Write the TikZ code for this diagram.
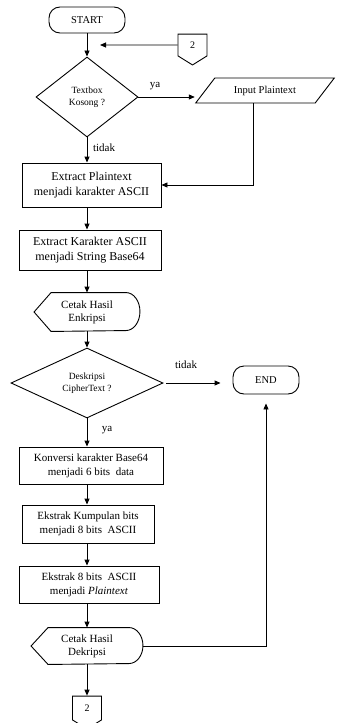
\documentclass[tikz,border=0pt]{standalone}
\usepackage{fontspec}
\setmainfont{Liberation Serif}
\usetikzlibrary{
    arrows.meta,
    positioning,
    shapes.geometric,
    shapes.symbols
}

\begin{document}
\begin{tikzpicture}[
    x=1pt, y=-1pt,
    line width=0.9pt,
    font=\fontsize{10}{12}\selectfont,
    terminal/.style={rectangle, rounded corners=11pt, draw, minimum width=76pt, minimum height=26pt, align=center, font=\fontsize{10.5}{12}\selectfont},
    process/.style={rectangle, draw, align=center, inner sep=2pt, font=\fontsize{11}{14}\selectfont},
    bigbox/.style={process, font=\fontsize{12}{15}\selectfont},
    decision/.style={diamond, draw, align=center, inner sep=0pt, font=\fontsize{9.5}{12}\selectfont},
    inout/.style={trapezium, trapezium left angle=51, trapezium right angle=129, trapezium stretches=true, draw, minimum width=139pt, minimum height=25pt, font=\fontsize{10.5}{12}\selectfont},
    offpage/.style={signal, signal to=south, signal pointer angle=116, draw, minimum width=29pt, minimum height=24pt, inner sep=1pt},
    display/.style={rectangle, align=center, font=\fontsize{11}{13}\selectfont},
    arrow/.style={-{Triangle[length=6pt, width=5pt]}},
    lbl/.style={font=\fontsize{11}{12}\selectfont}
]
\useasboundingbox (0,0) rectangle (337,723);

% Start and re-entry
\node[terminal] (start) at (87,20) {START};
\node[offpage] (con1) at (192.5,45) {2};
\coordinate (join) at (100,45);

% Encryption part
\node[decision, minimum width=102pt, minimum height=80pt] (empty) at (87,97) {Textbox\\Kosong ?};
\node[inout] (input) at (265,90.5) {Input Plaintext};
\node[bigbox, minimum width=139pt, minimum height=44pt] (extplain) at (91.5,185) {Extract Plaintext\\menjadi karakter ASCII};
\node[bigbox, minimum width=142pt, minimum height=40pt] (extascii) at (90,250) {Extract Karakter ASCII\\menjadi String Base64};
\node[display, minimum width=105pt, minimum height=38pt] (printenc) at (87,312) {Cetak Hasil\\Enkripsi};

% Decryption part
\node[decision, minimum width=152pt, minimum height=70pt] (decrypt) at (87,383) {Deskripsi\\CipherText ?};
\node[terminal, minimum width=66pt, minimum height=28pt] (end) at (266,380) {END};
\node[process, minimum width=144pt, minimum height=37pt] (convert) at (91,465.5) {Konversi karakter Base64\\menjadi 6 bits\ \ data};
\node[process, minimum width=132pt, minimum height=38pt] (collect) at (88,524) {Ekstrak Kumpulan bits\\menjadi 8 bits\ \ ASCII};
\node[process, minimum width=140pt, minimum height=37pt] (toplain) at (89,584.5) {Ekstrak 8 bits\ \ ASCII\\menjadi \textit{Plaintext}};
\node[display, minimum width=111pt, minimum height=36pt] (printdec) at (87,646) {Cetak Hasil\\Dekripsi};
\node[offpage, minimum height=26pt] (con2) at (87,708) {2};

% Display outlines
\draw (printenc.west) -- ([xshift=17pt]printenc.north west) -- ([xshift=-14pt]printenc.north east)
    arc[start angle=90, end angle=-90, x radius=14pt, y radius=19pt] -- ([xshift=17pt]printenc.south west) -- cycle;
\draw (printdec.west) -- ([xshift=17pt]printdec.north west) -- ([xshift=-14pt]printdec.north east)
    arc[start angle=90, end angle=-90, x radius=14pt, y radius=18pt] -- ([xshift=17pt]printdec.south west) -- cycle;

% Encryption flow
\draw[arrow] (start) -- (empty);
\draw[arrow] (con1) -- (join);
\draw[arrow] (empty.east) -- (empty.east -| input.bottom left corner);
\node[lbl] (yes1) at (155,86) {ya};
\draw[arrow] ([xshift=-12pt]input.south) |- (extplain.east);
\draw[arrow] (empty) -- (empty |- extplain.north);
\node[lbl] (no1) at (104,148) {tidak};
\draw[arrow] (extplain.south -| empty) -- (extascii.north -| empty);
\draw[arrow] (extascii.south -| empty) -- (printenc.north);
\draw[arrow] (printenc) -- (decrypt);

% Decryption flow
\draw[arrow] ([xshift=3pt]decrypt.east) -- ([xshift=-12pt]end.west |- decrypt.east);
\node[lbl] (no2) at (186,365) {tidak};
\draw[arrow] (decrypt) -- (decrypt |- convert.north);
\node[lbl] (yes2) at (107,430) {ya};
\draw[arrow] (convert.south -| decrypt) -- (collect.north -| decrypt);
\draw[arrow] (collect.south -| decrypt) -- (toplain.north -| decrypt);
\draw[arrow] (toplain.south -| decrypt) -- (printdec.north);
\draw[arrow] (printdec.east) -| ([yshift=-9pt]end.south);
\draw[arrow] (printdec) -- (con2);

\end{tikzpicture}
\end{document}
